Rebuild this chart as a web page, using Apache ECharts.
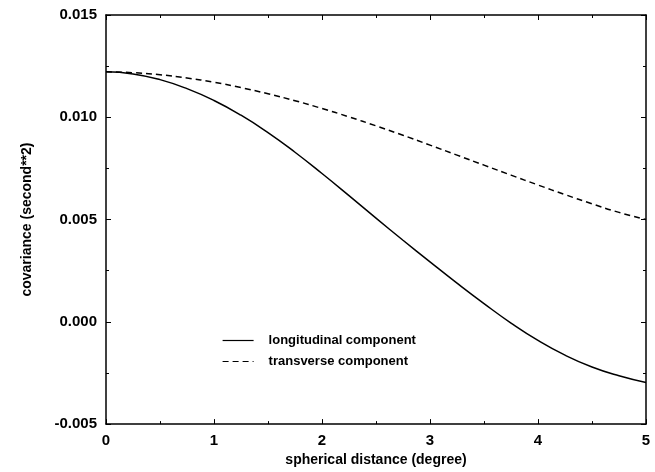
<!DOCTYPE html>
<html>
<head>
<meta charset="utf-8">
<script src="https://cdn.jsdelivr.net/npm/echarts@6/dist/echarts.min.js"></script>
<style>
  html, body { margin: 0; padding: 0; background: #fff; }
  #chart { width: 655px; height: 472px; }
</style>
</head>
<body>
<div id="chart"></div>
<script>
// spherical distance (degree)
const distance = [0, 0.25, 0.5, 0.75, 1, 1.25, 1.5, 1.75, 2, 2.25, 2.5,
  2.75, 3, 3.25, 3.5, 3.75, 4, 4.25, 4.5, 4.75, 5];
const longitudinal = [0.01222, 0.01212, 0.01184, 0.01140, 0.01082, 0.01010,
  0.00925, 0.00829, 0.00725, 0.00617, 0.00507, 0.00399, 0.00293, 0.00189,
  0.00089, -0.00006, -0.00091, -0.00163, -0.00221, -0.00264, -0.00297];
const transverse = [0.01222, 0.01218, 0.01208, 0.01192, 0.01171, 0.01145,
  0.01115, 0.01081, 0.01043, 0.01002, 0.00958, 0.00912, 0.00864, 0.00815,
  0.00766, 0.00717, 0.00669, 0.00622, 0.00577, 0.00535, 0.00500];
const seriesNames = ["longitudinal component", "transverse component"];

const font = "'Liberation Sans', Arial, sans-serif";
const pairs = (ys) => distance.map((x, i) => [x, ys[i]]);

let chart = echarts.init(document.getElementById("chart"));
let axisLine = { show: true, onZero: false, lineStyle: { color: "#000", width: 1.5 } };
let tick = { inside: true, length: 5, lineStyle: { color: "#000" } };
let minor = { show: true, splitNumber: 2, length: 3, lineStyle: { color: "#000" } };
let option = {
  animation: false,
  grid: { left: 106, right: 9, top: 15, bottom: 46 },
  legend: {
    orient: "vertical",
    left: 222,
    top: 334,
    padding: 0,
    itemWidth: 31,
    itemHeight: 10,
    itemGap: 8,
    itemStyle: { opacity: 0 },
    lineStyle: { width: 1.2 },
    textStyle: { fontFamily: font, fontSize: 13, fontWeight: "bold", color: "#000", padding: [0, 0, 0, 10] },
    data: seriesNames,
  },
  xAxis: [
    {
      type: "value",
      min: 0,
      max: 5,
      interval: 1,
      name: "spherical distance (degree)",
      nameLocation: "middle",
      nameGap: 19,
      nameTextStyle: { fontFamily: font, fontSize: 14, fontWeight: "bold", color: "#000" },
      axisLine: axisLine,
      axisTick: tick,
      minorTick: minor,
      splitLine: { show: false },
      axisLabel: { fontFamily: font, fontSize: 15, fontWeight: "bold", color: "#000", margin: 9 },
    },
    {
      type: "value",
      position: "top",
      min: 0,
      max: 5,
      interval: 1,
      axisLine: axisLine,
      axisTick: tick,
      minorTick: minor,
      splitLine: { show: false },
      axisLabel: { show: false },
    },
  ],
  yAxis: [
    {
      type: "value",
      min: -0.005,
      max: 0.015,
      interval: 0.005,
      name: "covariance (second**2)",
      nameLocation: "middle",
      nameGap: 72,
      nameTextStyle: { fontFamily: font, fontSize: 14, fontWeight: "bold", color: "#000" },
      axisLine: axisLine,
      axisTick: tick,
      minorTick: minor,
      splitLine: { show: false },
      axisLabel: {
        fontFamily: font, fontSize: 15, fontWeight: "bold", color: "#000", margin: 9,
        formatter: (v) => v.toFixed(3),
      },
    },
    {
      type: "value",
      position: "right",
      min: -0.005,
      max: 0.015,
      interval: 0.005,
      axisLine: axisLine,
      axisTick: tick,
      minorTick: minor,
      splitLine: { show: false },
      axisLabel: { show: false },
    },
  ],
  series: [
    {
      name: seriesNames[0],
      type: "line",
      smooth: true,
      symbol: "none",
      color: "#000",
      lineStyle: { color: "#000", width: 1.5, type: "solid" },
      data: pairs(longitudinal),
    },
    {
      name: seriesNames[1],
      type: "line",
      smooth: true,
      symbol: "none",
      color: "#000",
      lineStyle: { color: "#000", width: 1.5, type: [6, 4] },
      data: pairs(transverse),
    },
  ],
};
chart.setOption(option, true);
</script>
</body>
</html>
